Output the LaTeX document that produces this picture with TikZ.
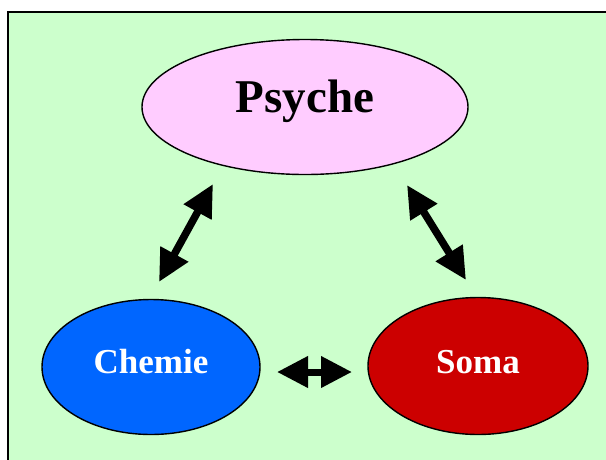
\documentclass[tikz,border=0pt]{standalone}
\usepackage{fontspec}
\setmainfont{Liberation Serif}
\usepackage{xcolor}
\usepackage{tikz}
\usetikzlibrary{arrows.meta,shapes.geometric}
\definecolor{panelgreen}{HTML}{CCFFCC}
\definecolor{psychepink}{HTML}{FFCCFF}
\definecolor{chemieblue}{HTML}{0066FF}
\definecolor{somared}{HTML}{CC0000}
\tikzset{
  panel/.style={draw=black,line width=2.2pt,fill=panelgreen},
  blob/.style={ellipse,draw=black,line width=1.4pt,inner sep=0pt},
  bigarrow/.style={{Triangle[length=32pt,width=30pt]}-{Triangle[length=32pt,width=30pt]},line width=7.5pt,black},
  smallarrow/.style={{Triangle[length=31pt,width=30pt]}-{Triangle[length=31pt,width=30pt]},line width=7pt,black}
}

\begin{document}
\begin{tikzpicture}[x=1pt,y=-1pt]
  \useasboundingbox (0,0) rectangle (606,459);
  \clip (0,0) rectangle (606,459);
  \draw[panel] (8,12) rectangle (640,490);
  \node[blob,fill=psychepink,minimum width=326pt,minimum height=135pt] (psyche) at (305,107) {};
  \node[blob,fill=chemieblue,minimum width=218pt,minimum height=135pt] (chemie) at (151,367) {};
  \node[blob,fill=somared,minimum width=220pt,minimum height=137pt] (soma) at (478,366) {};
  % labels sit a little above the centres
  \node[anchor=base] (psyche-txt) at (305,112) {\fontsize{47}{50}\selectfont\bfseries Psyche};
  \node[anchor=base,text=white] (chemie-txt) at (151,373) {\fontsize{35}{38}\selectfont\bfseries Chemie};
  \node[anchor=base,text=white] (soma-txt) at (478,373) {\fontsize{35}{38}\selectfont\bfseries Soma};
  \coordinate (ps-l) at (213,184);
  \coordinate (ch-t) at (159,282);
  \coordinate (ps-r) at (407,185);
  \coordinate (so-t) at (466,280);
  \coordinate (ch-r) at (277,372);
  \coordinate (so-l) at (352,372);
  \draw[bigarrow] (ps-l) -- (ch-t);
  \draw[bigarrow] (ps-r) -- (so-t);
  \draw[smallarrow] (ch-r) -- (so-l);
\end{tikzpicture}
\end{document}
